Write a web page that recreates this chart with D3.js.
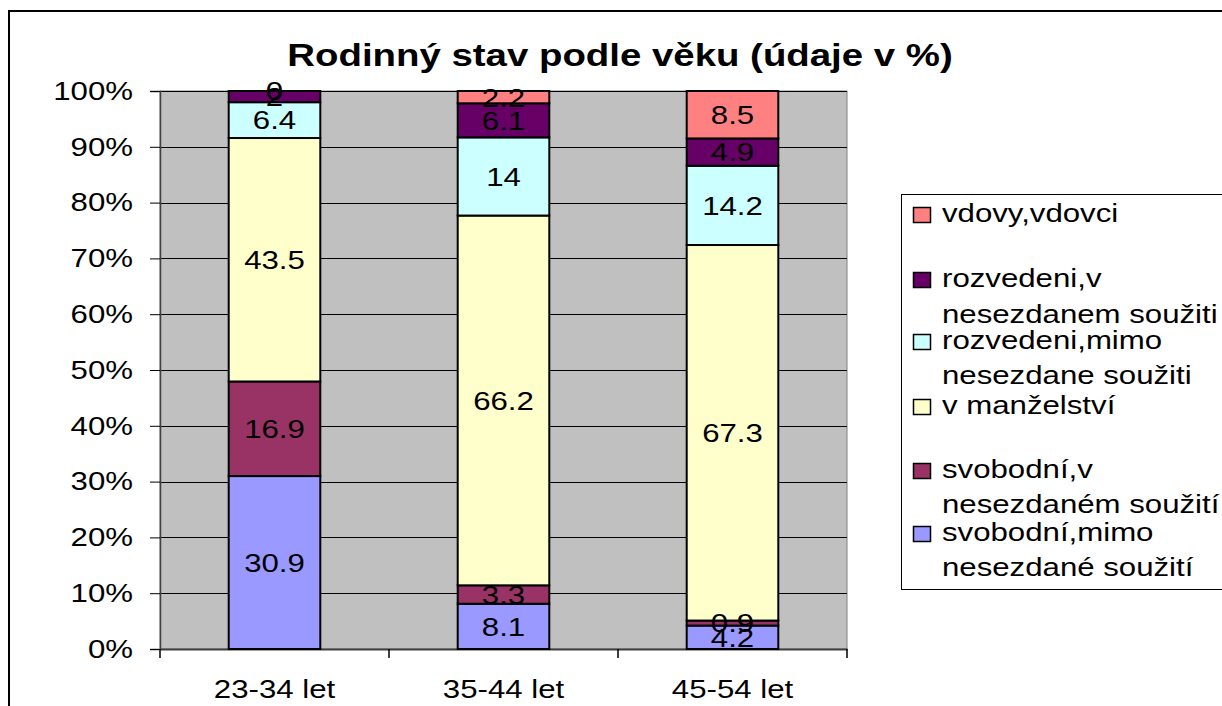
<!DOCTYPE html>
<html>
<head>
<meta charset="utf-8">
<script src="https://cdn.jsdelivr.net/npm/d3@7"></script>
<style>
  body { margin: 0; background: #fff; }
  text { font-family: "Liberation Sans", Arial, sans-serif; }
</style>
</head>
<body>
<div id="chart"></div>
<script>
// data
var categories = ["23-34 let", "35-44 let", "45-54 let"];
var svobodniMimo = [30.9, 8.1, 4.2];
var svobodniV = [16.9, 3.3, 0.9];
var manzelstvi = [43.5, 66.2, 67.3];
var rozvedeniMimo = [6.4, 14, 14.2];
var rozvedeniV = [2, 6.1, 4.9];
var vdovy = [0, 2.2, 8.5];
var yTicks = [0, 0.1, 0.2, 0.3, 0.4, 0.5, 0.6, 0.7, 0.8, 0.9, 1];

// legend text (top to bottom as shown)
var legendItems = [
  { key: 5, lines: ["vdovy,vdovci"] },
  { key: 4, lines: ["rozvedeni,v", "nesezdanem soužiti"] },
  { key: 3, lines: ["rozvedeni,mimo", "nesezdane soužiti"] },
  { key: 2, lines: ["v manželství"] },
  { key: 1, lines: ["svobodní,v", "nesezdaném soužití"] },
  { key: 0, lines: ["svobodní,mimo", "nesezdané soužití"] }
];
var colors = ["#9999FF", "#993366", "#FFFFCC", "#CCFFFF", "#660066", "#FF8080"];

var allSeries = [svobodniMimo, svobodniV, manzelstvi, rozvedeniMimo, rozvedeniV, vdovy];
var rows = categories.map(function(c, i) {
  var r = { cat: c };
  allSeries.forEach(function(s, k) { r["s" + k] = s[i]; });
  return r;
});
var keys = allSeries.map(function(s, k) { return "s" + k; });

var W = 1222, H = 706;
var plot = { left: 160, top: 91, right: 847, bottom: 649 };
var SX = 1.2; // the old chart renders its text a bit wider

// move x/y into a transform so the text can be stretched sideways
function stretch(sel) {
  sel.each(function() {
    var t = d3.select(this);
    var tx = +t.attr("x") || 0, ty = +t.attr("y") || 0;
    t.attr("x", 0).attr("y", 0)
      .attr("transform", "translate(" + tx + "," + ty + ") scale(" + SX + ",1)");
  });
}

var svg = d3.select("#chart").append("svg")
  .attr("width", W).attr("height", H);

// outer chart frame
svg.append("rect")
  .attr("x", 9).attr("y", 11)
  .attr("width", W + 10).attr("height", H + 10)
  .attr("fill", "#fff").attr("stroke", "#000").attr("stroke-width", 2);

// title
svg.append("text")
  .attr("x", 620).attr("y", 66)
  .attr("text-anchor", "middle")
  .attr("font-size", "32px").attr("font-weight", "bold")
  .text("Rodinný stav podle věku (údaje v %)")
  .call(stretch);

var xOuter = d3.scaleBand().domain(categories).range([plot.left, plot.right]);
var x = d3.scaleBand()
  .domain(categories)
  .range([plot.left, plot.right])
  .paddingInner(0.6).paddingOuter(0.3);
var y = d3.scaleLinear().domain([0, 1]).range([plot.bottom, plot.top]);

// plot background
svg.append("rect")
  .attr("x", plot.left).attr("y", plot.top)
  .attr("width", plot.right - plot.left).attr("height", plot.bottom - plot.top)
  .attr("fill", "#C0C0C0").attr("stroke", "#808080").attr("stroke-width", 1);

// gridlines
svg.append("g").selectAll("line")
  .data(yTicks.slice(1))
  .enter().append("line")
  .attr("x1", plot.left).attr("x2", plot.right)
  .attr("y1", function(d) { return Math.round(y(d)) + 0.5; })
  .attr("y2", function(d) { return Math.round(y(d)) + 0.5; })
  .attr("stroke", "#000").attr("stroke-width", 1);

// y axis
var yAxis = svg.append("g")
  .attr("transform", "translate(" + plot.left + ",0)")
  .call(d3.axisLeft(y).tickValues(yTicks).tickFormat(d3.format(".0%")).tickSize(10).tickPadding(17));
yAxis.selectAll("text").attr("font-size", "26px").attr("fill", "#000")
  .style("font-family", "'Liberation Sans', Arial, sans-serif")
  .call(stretch);
yAxis.selectAll("line").attr("stroke", "#000");
yAxis.select(".domain").attr("stroke", "#404040").attr("stroke-width", 1.5);

// x axis
var xAxis = svg.append("g")
  .attr("transform", "translate(0," + plot.bottom + ")")
  .call(d3.axisBottom(xOuter).tickSize(0).tickPadding(31));
xAxis.selectAll("text").attr("font-size", "26px").attr("fill", "#000")
  .style("font-family", "'Liberation Sans', Arial, sans-serif")
  .call(stretch);
xAxis.select(".domain").attr("stroke", "#404040").attr("stroke-width", 2);

// boundary ticks between categories
var bounds = categories.map(function(c) { return xOuter(c); }).concat([plot.right]);
svg.append("g").selectAll("line")
  .data(bounds)
  .enter().append("line")
  .attr("x1", function(d) { return d; }).attr("x2", function(d) { return d; })
  .attr("y1", plot.bottom).attr("y2", plot.bottom + 9)
  .attr("stroke", "#000").attr("stroke-width", 1.5);

// stacked bars (100%)
var stack = d3.stack().keys(keys).offset(d3.stackOffsetExpand);
var layers = stack(rows);

var g = svg.append("g");
layers.forEach(function(layer, k) {
  g.selectAll(".seg" + k)
    .data(layer)
    .enter().append("rect")
    .attr("x", function(d) { return x(d.data.cat); })
    .attr("width", x.bandwidth())
    .attr("y", function(d) { return y(d[1]); })
    .attr("height", function(d) { return y(d[0]) - y(d[1]); })
    .attr("fill", colors[k])
    .attr("stroke", "#000").attr("stroke-width", 2);
});

// data labels
layers.forEach(function(layer, k) {
  g.selectAll(".lab" + k)
    .data(layer)
    .enter().append("text")
    .attr("x", function(d) { return x(d.data.cat) + x.bandwidth() / 2; })
    .attr("y", function(d) { return (y(d[0]) + y(d[1])) / 2; })
    .attr("dy", "0.36em")
    .attr("text-anchor", "middle")
    .attr("font-size", "26px")
    .attr("fill", "#000")
    .text(function(d) { return d.data["s" + k]; })
    .call(stretch);
});

// legend
var lg = svg.append("g");
lg.append("rect")
  .attr("x", 901.5).attr("y", 194.5)
  .attr("width", 340).attr("height", 395)
  .attr("fill", "#fff").attr("stroke", "#000").attr("stroke-width", 1);

var lineY = [215, 280, 316, 342, 377, 407, 471, 506, 534, 569];
var li = 0;
legendItems.forEach(function(item) {
  var y0 = lineY[li];
  lg.append("rect")
    .attr("x", 913.5).attr("y", y0 - 7.5)
    .attr("width", 17).attr("height", 15)
    .attr("fill", colors[item.key]).attr("stroke", "#000").attr("stroke-width", 1.5);
  item.lines.forEach(function(t) {
    lg.append("text")
      .attr("x", 942)
      .attr("y", lineY[li])
      .attr("dy", "0.27em")
      .attr("font-size", "26px")
      .text(t)
      .call(stretch);
    li++;
  });
});
</script>
</body>
</html>
